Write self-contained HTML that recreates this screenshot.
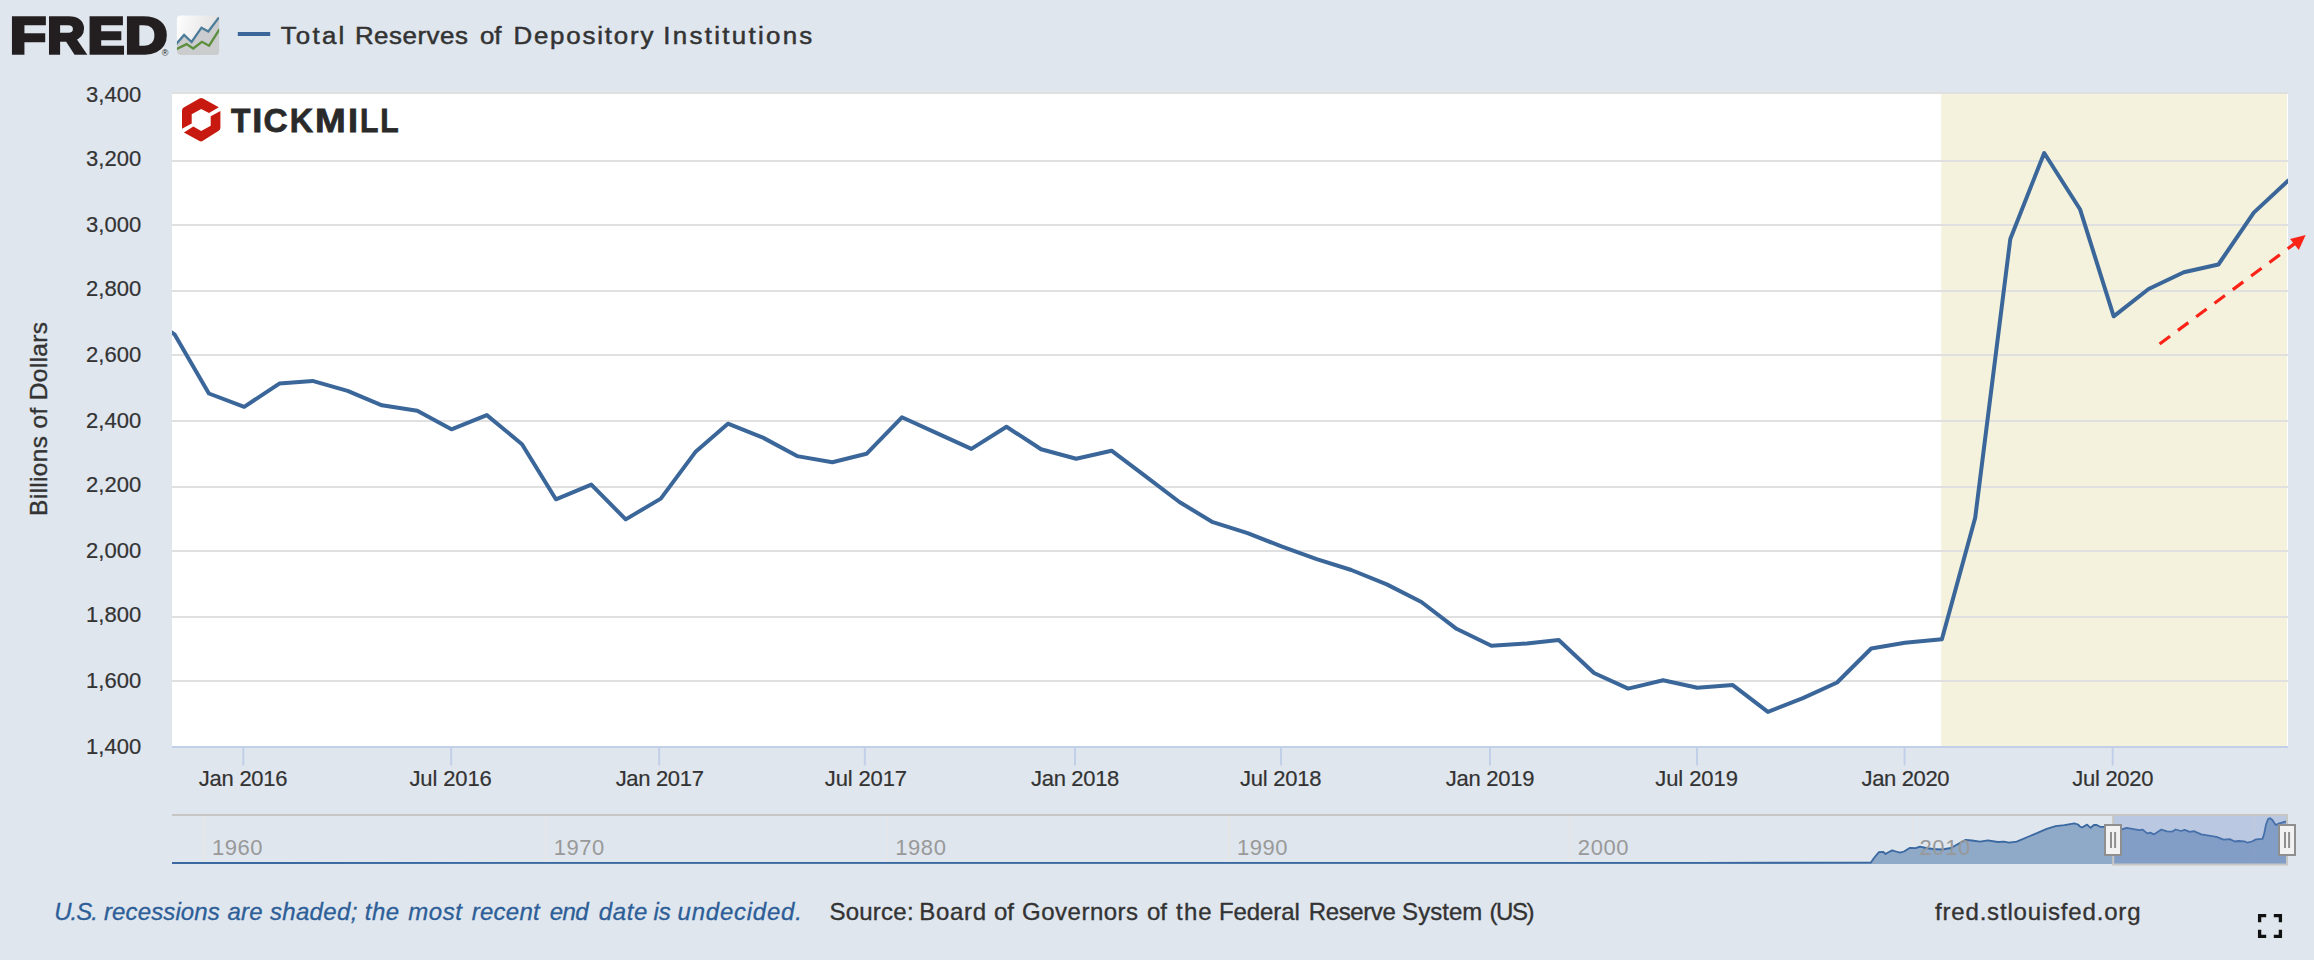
<!DOCTYPE html>
<html lang="en">
<head>
<meta charset="utf-8">
<title>Total Reserves of Depository Institutions</title>
<style>
html,body{margin:0;padding:0;background:#dfe6ee;}
body{width:2314px;height:960px;overflow:hidden;font-family:'Liberation Sans', sans-serif;}
svg{display:block;}
text{font-family:'Liberation Sans', sans-serif;}
</style>
</head>
<body>
<svg width="2314" height="960" viewBox="0 0 2314 960">
<defs>
<linearGradient id="ig" x1="0" y1="0" x2="1" y2="0.25">
<stop offset="0" stop-color="#ffffff"/><stop offset="0.12" stop-color="#fbfbfb"/><stop offset="1" stop-color="#e0e0e0"/>
</linearGradient>
<clipPath id="ic"><rect x="176.9" y="15.6" width="42.3" height="39.3" rx="3.6"/></clipPath>
<clipPath id="pc"><rect x="172" y="93" width="2116" height="654"/></clipPath>
</defs>
<rect x="0" y="0" width="2314" height="960" fill="#dfe6ee"/>
<g id="fredlogo" fill="#231f20" stroke="#231f20" stroke-width="3.4" stroke-linejoin="miter" font-weight="700" font-size="50">
<text y="53"><tspan x="10.1" textLength="36.04" lengthAdjust="spacingAndGlyphs">F</tspan><tspan x="47.2" textLength="37.92" lengthAdjust="spacingAndGlyphs">R</tspan><tspan x="87.8" textLength="36.58" lengthAdjust="spacingAndGlyphs">E</tspan><tspan x="124.9" textLength="42.32" lengthAdjust="spacingAndGlyphs">D</tspan></text>
</g>
<text x="161.8" y="55.8" font-size="9" fill="#231f20">®</text>
<g clip-path="url(#ic)">
<rect x="176" y="15" width="44" height="41" fill="url(#ig)"/>
<path d="M176.5,43.6 L184.1,35 L191.6,42 L201.5,27.7 L208.3,31.4 L219.6,16.6 L219.6,56 L176.5,56 Z" fill="#cbcccd"/>
<path d="M176.3,43.9 L184.1,35 L191.6,42 L201.5,27.7 L208.3,31.4 L218.4,18.1" fill="none" stroke="#4b7c99" stroke-width="2.3" stroke-linecap="round"/>
<path d="M176.3,49.1 L186.6,44.1 L193.2,48.5 L201.9,41.8 L209.1,45.7 L219.6,29.2" fill="none" stroke="#5c8f3e" stroke-width="2.3"/>
</g>
<rect x="237.8" y="32" width="32.4" height="4" fill="#3a6699"/>
<text transform="translate(0,43.8) scale(1.07,1)" y="0" font-size="24.2" fill="#333" stroke="#333" stroke-width="0.5"><tspan x="262.34" textLength="59.44" lengthAdjust="spacing">Total</tspan> <tspan x="331.68" textLength="105.61" lengthAdjust="spacing">Reserves</tspan> <tspan x="448.55" textLength="20.19" lengthAdjust="spacing">of</tspan> <tspan x="479.81" textLength="130.84" lengthAdjust="spacing">Depository</tspan> <tspan x="619.91" textLength="139.25" lengthAdjust="spacing">Institutions</tspan></text>
<rect x="172" y="93" width="2116" height="654" fill="#ffffff"/>
<rect x="1941.2" y="93" width="345.8" height="654" fill="#f4f2dc"/>
<rect x="172" y="92" width="2116" height="2" fill="#e0e0e0"/>
<rect x="172" y="160" width="2116" height="2" fill="#e0e0e0"/>
<rect x="172" y="224" width="2116" height="2" fill="#e0e0e0"/>
<rect x="172" y="290" width="2116" height="2" fill="#e0e0e0"/>
<rect x="172" y="354" width="2116" height="2" fill="#e0e0e0"/>
<rect x="172" y="420" width="2116" height="2" fill="#e0e0e0"/>
<rect x="172" y="486" width="2116" height="2" fill="#e0e0e0"/>
<rect x="172" y="550" width="2116" height="2" fill="#e0e0e0"/>
<rect x="172" y="616" width="2116" height="2" fill="#e0e0e0"/>
<rect x="172" y="680" width="2116" height="2" fill="#e0e0e0"/>
<rect x="172" y="746" width="2116" height="2" fill="#c2cfe8"/>
<rect x="242.3" y="747" width="2" height="18.5" fill="#c2cfe8"/>
<rect x="450.2" y="747" width="2" height="18.5" fill="#c2cfe8"/>
<rect x="658.2" y="747" width="2" height="18.5" fill="#c2cfe8"/>
<rect x="863.8" y="747" width="2" height="18.5" fill="#c2cfe8"/>
<rect x="1074" y="747" width="2" height="18.5" fill="#c2cfe8"/>
<rect x="1280" y="747" width="2" height="18.5" fill="#c2cfe8"/>
<rect x="1489" y="747" width="2" height="18.5" fill="#c2cfe8"/>
<rect x="1696" y="747" width="2" height="18.5" fill="#c2cfe8"/>
<rect x="1903.6" y="747" width="2" height="18.5" fill="#c2cfe8"/>
<rect x="2111.7" y="747" width="2" height="18.5" fill="#c2cfe8"/>
<g fill="#c81910">
<path d="M199.47,98.5 Q201.2,97.5 202.95,98.47 L218.8,107.3 L209,113 L201.2,108.9 L191.7,114.3 L191.7,123.5 L182,128.7 L182,110.6 Q182,108.6 183.73,107.6 Z"/>
<path d="M220.4,111.1 L220.4,127.75 Q220.4,129.75 218.71,130.82 L202.89,140.87 Q201.2,141.94 199.44,140.98 L183.9,132.5 L193.3,126.5 L201.2,131.1 L210.7,125.7 L210.7,116.2 Z"/>
</g>
<text y="131.7" font-size="33.8" font-weight="700" fill="#2a2a2a" stroke="#2a2a2a" stroke-width="0.8"><tspan x="231.10" textLength="19.44" lengthAdjust="spacingAndGlyphs">T</tspan><tspan x="252.30" textLength="10.03" lengthAdjust="spacingAndGlyphs">I</tspan><tspan x="263.58" textLength="24.16" lengthAdjust="spacingAndGlyphs">C</tspan><tspan x="289.83" textLength="23.33" lengthAdjust="spacingAndGlyphs">K</tspan><tspan x="314.95" textLength="30.74" lengthAdjust="spacingAndGlyphs">M</tspan><tspan x="348.00" textLength="10.03" lengthAdjust="spacingAndGlyphs">I</tspan><tspan x="359.96" textLength="18.40" lengthAdjust="spacingAndGlyphs">L</tspan><tspan x="380.16" textLength="18.40" lengthAdjust="spacingAndGlyphs">L</tspan></text>
<path d="M139.0,311.0 L174.5,334.3 L208.9,393.5 L244.2,406.8 L279.3,383.6 L312.5,380.9 L347.6,390.9 L381.9,405.3 L417.3,410.8 L451.4,429.3 L486.8,415.1 L522.0,444.2 L555.9,499.3 L591.3,484.6 L625.7,519.4 L660.8,498.6 L695.9,451.4 L727.9,423.7 L762.9,437.6 L797.1,456.1 L832.4,462.3 L866.5,453.8 L901.9,417.3 L936.2,432.9 L971.4,448.9 L1006.5,426.8 L1041.1,449.3 L1076.2,458.8 L1111.5,450.7 L1143.4,474.7 L1179.4,502.0 L1212.8,522.2 L1247.6,533.2 L1282.1,546.7 L1316.7,559.1 L1351.3,570.0 L1386.8,584.4 L1421.4,602.0 L1456.5,628.8 L1491.4,645.8 L1526.8,643.5 L1558.7,640.0 L1594.0,673.0 L1628.2,688.6 L1663.1,680.3 L1697.4,687.7 L1732.8,685.1 L1767.9,711.9 L1802.9,698.1 L1837.1,682.5 L1871.2,648.5 L1904.9,642.7 L1941.9,639.3 L1975.2,517.7 L2010.3,238.9 L2044.2,153.0 L2080.0,209.2 L2113.7,316.3 L2148.6,289.0 L2183.8,272.3 L2218.4,264.5 L2253.8,212.6 L2288.1,180.6" fill="none" stroke="#3a6699" stroke-width="4" stroke-linejoin="round" stroke-linecap="round" clip-path="url(#pc)"/>
<path d="M2159.6,344 L2295,243.4" fill="none" stroke="#fb2318" stroke-width="3.2" stroke-dasharray="13 9.8"/>
<path d="M2305.7,235.1 L2290.1,238.9 L2298.8,249.9 Z" fill="#fb2318"/>
<text x="85.9" y="102" font-size="22" fill="#333" stroke="#333" stroke-width="0.2" textLength="55.4" lengthAdjust="spacing">3,400</text>
<text x="85.9" y="166" font-size="22" fill="#333" stroke="#333" stroke-width="0.2" textLength="55.4" lengthAdjust="spacing">3,200</text>
<text x="85.9" y="232" font-size="22" fill="#333" stroke="#333" stroke-width="0.2" textLength="55.4" lengthAdjust="spacing">3,000</text>
<text x="85.9" y="296" font-size="22" fill="#333" stroke="#333" stroke-width="0.2" textLength="55.4" lengthAdjust="spacing">2,800</text>
<text x="85.9" y="362" font-size="22" fill="#333" stroke="#333" stroke-width="0.2" textLength="55.4" lengthAdjust="spacing">2,600</text>
<text x="85.9" y="428" font-size="22" fill="#333" stroke="#333" stroke-width="0.2" textLength="55.4" lengthAdjust="spacing">2,400</text>
<text x="85.9" y="492" font-size="22" fill="#333" stroke="#333" stroke-width="0.2" textLength="55.4" lengthAdjust="spacing">2,200</text>
<text x="85.9" y="558" font-size="22" fill="#333" stroke="#333" stroke-width="0.2" textLength="55.4" lengthAdjust="spacing">2,000</text>
<text x="85.9" y="622" font-size="22" fill="#333" stroke="#333" stroke-width="0.2" textLength="55.4" lengthAdjust="spacing">1,800</text>
<text x="85.9" y="688" font-size="22" fill="#333" stroke="#333" stroke-width="0.2" textLength="55.4" lengthAdjust="spacing">1,600</text>
<text x="85.9" y="754" font-size="22" fill="#333" stroke="#333" stroke-width="0.2" textLength="55.4" lengthAdjust="spacing">1,400</text>
<text x="198.8" y="786" font-size="22" fill="#333" stroke="#333" stroke-width="0.2" textLength="88.8" lengthAdjust="spacing">Jan 2016</text>
<text x="409.4" y="786" font-size="22" fill="#333" stroke="#333" stroke-width="0.2" textLength="82.4" lengthAdjust="spacing">Jul 2016</text>
<text x="615.7" y="786" font-size="22" fill="#333" stroke="#333" stroke-width="0.2" textLength="88.2" lengthAdjust="spacing">Jan 2017</text>
<text x="824.8" y="786" font-size="22" fill="#333" stroke="#333" stroke-width="0.2" textLength="82.2" lengthAdjust="spacing">Jul 2017</text>
<text x="1031.1" y="786" font-size="22" fill="#333" stroke="#333" stroke-width="0.2" textLength="88.2" lengthAdjust="spacing">Jan 2018</text>
<text x="1240.1" y="786" font-size="22" fill="#333" stroke="#333" stroke-width="0.2" textLength="81.4" lengthAdjust="spacing">Jul 2018</text>
<text x="1445.7" y="786" font-size="22" fill="#333" stroke="#333" stroke-width="0.2" textLength="88.8" lengthAdjust="spacing">Jan 2019</text>
<text x="1655.3" y="786" font-size="22" fill="#333" stroke="#333" stroke-width="0.2" textLength="82.6" lengthAdjust="spacing">Jul 2019</text>
<text x="1861.6" y="786" font-size="22" fill="#333" stroke="#333" stroke-width="0.2" textLength="88.0" lengthAdjust="spacing">Jan 2020</text>
<text x="2072.3" y="786" font-size="22" fill="#333" stroke="#333" stroke-width="0.2" textLength="81.2" lengthAdjust="spacing">Jul 2020</text>
<text transform="translate(46.6,419) rotate(-90)" font-size="24.5" fill="#333" stroke="#333" stroke-width="0.35" text-anchor="middle" textLength="194" lengthAdjust="spacing">Billions of Dollars</text>
<rect x="203" y="816" width="2" height="47" fill="#e6e6e6" opacity="0.8"/>
<rect x="544.7" y="816" width="2" height="47" fill="#e6e6e6" opacity="0.8"/>
<rect x="886.3" y="816" width="2" height="47" fill="#e6e6e6" opacity="0.8"/>
<rect x="1228" y="816" width="2" height="47" fill="#e6e6e6" opacity="0.8"/>
<rect x="1569.6" y="816" width="2" height="47" fill="#e6e6e6" opacity="0.8"/>
<rect x="1911.3" y="816" width="2" height="47" fill="#e6e6e6" opacity="0.8"/>
<rect x="2253" y="816" width="2" height="47" fill="#e6e6e6" opacity="0.8"/>
<path d="M172.0,863.0 L1700.0,862.8 L1870.7,862.7 L1874.0,858.0 L1878.9,852.2 L1883.3,851.8 L1885.6,854.0 L1888.0,852.5 L1892.2,850.4 L1896.0,851.5 L1900.0,852.7 L1904.0,851.5 L1910.0,847.8 L1915.6,848.2 L1920.0,846.7 L1926.0,848.0 L1933.0,849.0 L1942.0,849.5 L1951.0,848.0 L1958.0,844.0 L1965.6,839.8 L1972.0,840.5 L1980.0,841.6 L1987.8,840.4 L1997.8,842.0 L2004.0,841.6 L2008.9,842.7 L2016.7,841.6 L2030.0,836.0 L2046.7,828.9 L2055.6,826.2 L2064.4,825.1 L2074.4,823.3 L2078.0,824.5 L2080.0,826.5 L2082.0,827.5 L2087.1,824.6 L2090.6,827.8 L2094.2,824.8 L2096.7,825.0 L2100.2,826.8 L2104.3,826.8 L2113.0,828.0 L2122.0,829.3 L2126.5,827.8 L2133.6,829.1 L2139.2,830.1 L2142.7,829.6 L2147.2,833.4 L2150.3,832.6 L2153.8,834.4 L2161.4,829.6 L2167.0,831.3 L2172.0,831.7 L2175.6,829.5 L2181.1,831.0 L2184.7,829.9 L2189.7,831.9 L2193.8,831.1 L2201.3,834.4 L2216.5,836.9 L2223.6,839.6 L2229.7,839.1 L2234.7,841.5 L2238.8,841.0 L2244.3,841.3 L2247.4,842.7 L2251.9,841.5 L2256.0,839.4 L2262.5,838.9 L2264.0,834.4 L2266.1,824.3 L2268.1,819.0 L2270.1,818.2 L2272.6,820.2 L2275.7,825.1 L2279.2,823.3 L2285.3,821.7 L2286.0,821.2 L2286,864 L172,864 Z" fill="#4572a7" fill-opacity="0.52"/>
<path d="M172.0,863.0 L1700.0,862.8 L1870.7,862.7 L1874.0,858.0 L1878.9,852.2 L1883.3,851.8 L1885.6,854.0 L1888.0,852.5 L1892.2,850.4 L1896.0,851.5 L1900.0,852.7 L1904.0,851.5 L1910.0,847.8 L1915.6,848.2 L1920.0,846.7 L1926.0,848.0 L1933.0,849.0 L1942.0,849.5 L1951.0,848.0 L1958.0,844.0 L1965.6,839.8 L1972.0,840.5 L1980.0,841.6 L1987.8,840.4 L1997.8,842.0 L2004.0,841.6 L2008.9,842.7 L2016.7,841.6 L2030.0,836.0 L2046.7,828.9 L2055.6,826.2 L2064.4,825.1 L2074.4,823.3 L2078.0,824.5 L2080.0,826.5 L2082.0,827.5 L2087.1,824.6 L2090.6,827.8 L2094.2,824.8 L2096.7,825.0 L2100.2,826.8 L2104.3,826.8 L2113.0,828.0 L2122.0,829.3 L2126.5,827.8 L2133.6,829.1 L2139.2,830.1 L2142.7,829.6 L2147.2,833.4 L2150.3,832.6 L2153.8,834.4 L2161.4,829.6 L2167.0,831.3 L2172.0,831.7 L2175.6,829.5 L2181.1,831.0 L2184.7,829.9 L2189.7,831.9 L2193.8,831.1 L2201.3,834.4 L2216.5,836.9 L2223.6,839.6 L2229.7,839.1 L2234.7,841.5 L2238.8,841.0 L2244.3,841.3 L2247.4,842.7 L2251.9,841.5 L2256.0,839.4 L2262.5,838.9 L2264.0,834.4 L2266.1,824.3 L2268.1,819.0 L2270.1,818.2 L2272.6,820.2 L2275.7,825.1 L2279.2,823.3 L2285.3,821.7 L2286.0,821.2" fill="none" stroke="#3a68a0" stroke-width="1.8" stroke-linejoin="round"/>
<text x="212.0" y="855" font-size="22" fill="#999999" textLength="50.6" lengthAdjust="spacing">1960</text>
<text x="553.7" y="855" font-size="22" fill="#999999" textLength="50.6" lengthAdjust="spacing">1970</text>
<text x="895.3" y="855" font-size="22" fill="#999999" textLength="50.6" lengthAdjust="spacing">1980</text>
<text x="1237.0" y="855" font-size="22" fill="#999999" textLength="50.6" lengthAdjust="spacing">1990</text>
<text x="1577.8" y="855" font-size="22" fill="#999999" textLength="50.8" lengthAdjust="spacing">2000</text>
<text x="1919.5" y="855" font-size="22" fill="#999999" textLength="50.8" lengthAdjust="spacing">2010</text>
<rect x="2113" y="815" width="174" height="49.5" fill="#6685c2" fill-opacity="0.3"/>
<path d="M172,815 L2287,815 L2287,864.6 L2113.2,864.6 L2113.2,815" fill="none" stroke="#c6c6c4" stroke-width="2"/>
<rect x="2105" y="825" width="16" height="30" fill="#f2f2f2" stroke="#8f8f8f" stroke-width="2"/>
<path d="M2111,832 V848 M2115.1,832 V848" stroke="#8f8f8f" stroke-width="2" fill="none"/>
<rect x="2279" y="825" width="16" height="30" fill="#f2f2f2" stroke="#8f8f8f" stroke-width="2"/>
<path d="M2285,832 V848 M2289.1,832 V848" stroke="#8f8f8f" stroke-width="2" fill="none"/>
<text y="919.6" font-size="24" font-style="italic" fill="#2d5e97" stroke="#2d5e97" stroke-width="0.3"><tspan x="54.20" textLength="43.80" lengthAdjust="spacing">U.S.</tspan> <tspan x="104.00" textLength="115.80" lengthAdjust="spacing">recessions</tspan> <tspan x="227.60" textLength="35.00" lengthAdjust="spacing">are</tspan> <tspan x="269.90" textLength="87.40" lengthAdjust="spacing">shaded;</tspan> <tspan x="364.80" textLength="34.40" lengthAdjust="spacing">the</tspan> <tspan x="408.20" textLength="53.80" lengthAdjust="spacing">most</tspan> <tspan x="471.70" textLength="68.00" lengthAdjust="spacing">recent</tspan> <tspan x="549.70" textLength="39.00" lengthAdjust="spacing">end</tspan> <tspan x="598.70" textLength="48.60" lengthAdjust="spacing">date</tspan> <tspan x="653.50" textLength="17.34" lengthAdjust="spacing">is</tspan> <tspan x="677.60" textLength="124.20" lengthAdjust="spacing">undecided.</tspan></text>
<text y="919.6" font-size="24" fill="#333" stroke="#333" stroke-width="0.35"><tspan x="829.40" textLength="84.20" lengthAdjust="spacing">Source:</tspan> <tspan x="919.30" textLength="66.80" lengthAdjust="spacing">Board</tspan> <tspan x="993.95" textLength="20.02" lengthAdjust="spacing">of</tspan> <tspan x="1022.10" textLength="116.00" lengthAdjust="spacing">Governors</tspan> <tspan x="1146.95" textLength="20.02" lengthAdjust="spacing">of</tspan> <tspan x="1176.10" textLength="35.60" lengthAdjust="spacing">the</tspan> <tspan x="1218.90" textLength="81.00" lengthAdjust="spacing">Federal</tspan> <tspan x="1308.80" textLength="87.00" lengthAdjust="spacing">Reserve</tspan> <tspan x="1402.10" textLength="80.20" lengthAdjust="spacing">System</tspan> <tspan x="1489.40" textLength="45.20" lengthAdjust="spacing">(US)</tspan></text>
<text x="1935" y="919.6" font-size="24" fill="#333" stroke="#333" stroke-width="0.35" textLength="205.5" lengthAdjust="spacing">fred.stlouisfed.org</text>
<path d="M2259.6,922.2 V915.6 H2266.2 M2273.8,915.6 H2280.4 V922.2 M2280.4,929.8 V936.4 H2273.8 M2266.2,936.4 H2259.6 V929.8" fill="none" stroke="#111111" stroke-width="3.3"/>
</svg>
</body>
</html>
